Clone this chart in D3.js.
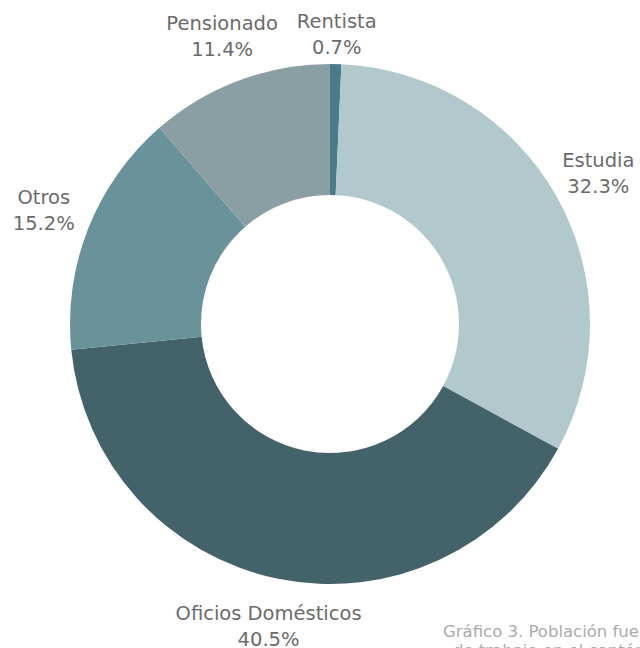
<!DOCTYPE html>
<html>
<head>
<meta charset="utf-8">
<script src="https://cdn.jsdelivr.net/npm/d3@7"></script>
<style>
  body { margin: 0; background: #fff; }
  svg { display: block; font-family: 'DejaVu Sans', sans-serif; }
  .lbl { fill: #6b6b6b; font-size: 19.5px; }
  .caption { fill: #ababab; font-size: 16.5px; }
</style>
</head>
<body>
<div class="donut-container"></div>
<script>
// orden horario desde las 12
const categories = ['Rentista', 'Estudia', 'Oficios Domésticos', 'Otros', 'Pensionado'];
const percents = [0.7, 32.3, 40.5, 15.2, 11.4];
const colors = ['#4b7b86', '#b1c8cc', '#436269', '#6a929a', '#8a9fa3'];
const captionLines = ['Gráfico 3. Población fuera de la fuerza', 'de trabajo en el cantón'];

const data = categories.map((c, i) => ({name: c, value: percents[i], color: colors[i]}));

function setupCanvas(data){
    const svg_width = 640;
    const svg_height = 648;
    const center = {x: 330, y: 324};
    const outerR = 260;
    const innerR = 129;
    const labelR = 308;
    const labelTop = -290; //no dejar que las etiquetas se salgan arriba

    const svg = d3.select('.donut-container').append('svg')
        .attr('width', svg_width).attr('height', svg_height);

    const g = svg.append('g')
        .attr('transform', `translate(${center.x},${center.y})`);

    const pie = d3.pie().sort(null).value(d => d.value);
    const arc = d3.arc().innerRadius(innerR).outerRadius(outerR);
    const labelArc = d3.arc().innerRadius(labelR).outerRadius(labelR);

    const arcs = pie(data);

    g.selectAll('.slice')
        .data(arcs)
        .enter()
        .append('path').attr('class', 'slice')
        .attr('d', arc)
        .style('fill', d => d.data.color);

    //labels: nombre + porcentaje
    const labels = g.selectAll('.lbl')
        .data(arcs)
        .enter()
        .append('text').attr('class', 'lbl')
        .attr('transform', d => {
            const [x, y] = labelArc.centroid(d);
            return `translate(${x},${Math.max(y, labelTop)})`;
        })
        .style('text-anchor', 'middle');
    labels.append('tspan').attr('x', 0).attr('y', -6).text(d => d.data.name);
    labels.append('tspan').attr('x', 0).attr('y', 20).text(d => d.data.value.toFixed(1) + '%');

    const cap = svg.append('text').attr('class', 'caption')
        .attr('x', 443).attr('y', 637);
    cap.append('tspan').attr('x', 443).text(captionLines[0]);
    cap.append('tspan').attr('x', 453).attr('dy', 19).text(captionLines[1]);
}

setupCanvas(data);
</script>
</body>
</html>
